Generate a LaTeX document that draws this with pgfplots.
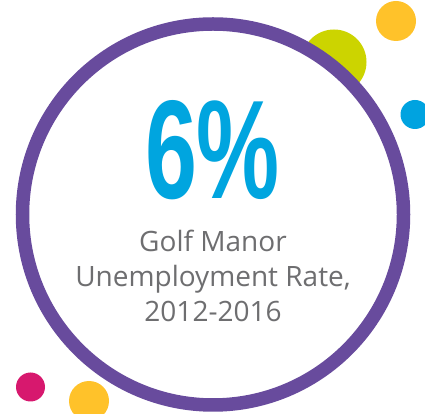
\documentclass[border=0pt]{standalone}
\usepackage{pgfplots}
\pgfplotsset{compat=1.18}
\usepackage{graphicx}
\usepackage{fontspec}
\setmainfont{Open Sans}
\newfontfamily\bigfont{Liberation Sans}
\definecolor{ringpurple}{HTML}{684B9D}
\definecolor{bigblue}{HTML}{00A5DF}
\definecolor{txtgray}{HTML}{6E6E70}
\definecolor{lime}{HTML}{CCD400}
\definecolor{sun}{HTML}{FFC22A}
\definecolor{dotblue}{HTML}{00A3E0}
\definecolor{magenta}{HTML}{D7186E}
\begin{document}
\begin{tikzpicture}
\begin{axis}[
  hide axis, scale only axis,
  width=425pt, height=414pt,
  xmin=0, xmax=425, ymin=0, ymax=414,
  clip=true,
]
% decorative dots
\fill[lime] (axis cs:334,352) circle[radius=32.5];
\fill[sun] (axis cs:396,393) circle[radius=20];
\fill[dotblue] (axis cs:415,299.5) circle[radius=14.5];
\fill[magenta] (axis cs:30.5,27) circle[radius=14.5];
\fill[sun] (axis cs:89,13) circle[radius=20];
% ring with white interior
\fill[white] (axis cs:213,199.5) circle[radius=190.5];
\draw[ringpurple, line width=13.5pt] (axis cs:213,199.5) circle[radius=190.5];
% headline value
\node[anchor=center, text=bigblue, inner sep=0pt] at (axis cs:212.5,263.5)
  {\resizebox{135pt}{98pt}{\bigfont\bfseries 6\%}};
\node[anchor=base, text=txtgray, inner sep=0pt, font=\fontsize{28}{34}\selectfont] at (axis cs:213,162.3) {Golf Manor};
\node[anchor=base, text=txtgray, inner sep=0pt, font=\fontsize{28}{34}\selectfont] at (axis cs:213,127.3) {Unemployment Rate,};
\node[anchor=base, text=txtgray, inner sep=0pt, font=\fontsize{28}{34}\selectfont] at (axis cs:213,92.3) {2012-2016};
\end{axis}
\pgfresetboundingbox
\useasboundingbox (current axis.south west) rectangle (current axis.north east);
\end{tikzpicture}
\end{document}
